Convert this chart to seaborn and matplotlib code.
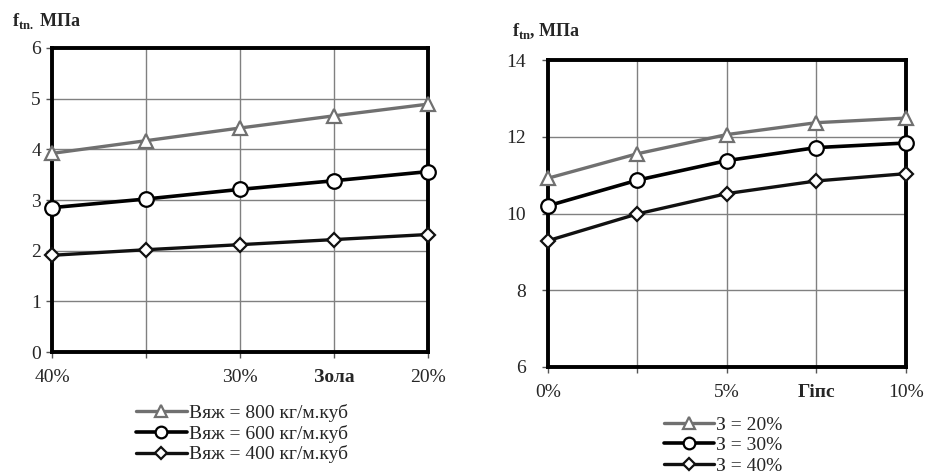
import matplotlib
matplotlib.use("Agg")
import matplotlib.pyplot as plt
import numpy as np
import pandas as pd
import seaborn as sns

# ліва діаграма: вміст золи
зола = [40, 35, 30, 25, 20]
зола_мітки = ["40%", "", "30%", "Зола", "20%"]
вяж_800 = [3.92, 4.17, 4.42, 4.66, 4.89]
вяж_600 = [2.85, 3.02, 3.21, 3.38, 3.56]
вяж_400 = [1.91, 2.02, 2.12, 2.22, 2.32]
ліва_легенда = ["Вяж = 800 кг/м.куб", "Вяж = 600 кг/м.куб", "Вяж = 400 кг/м.куб"]

# права діаграма: вміст гіпсу
гіпс = [0, 2.5, 5, 7.5, 10]
гіпс_мітки = ["0%", "", "5%", "Гіпс", "10%"]
з_20 = [10.92, 11.56, 12.06, 12.37, 12.49]
з_30 = [10.20, 10.87, 11.38, 11.72, 11.84]
з_40 = [9.29, 9.99, 10.52, 10.85, 11.04]
права_легенда = ["З = 20%", "З = 30%", "З = 40%"]

sns.set_theme(style="white")
plt.rcParams["font.family"] = ["Liberation Serif", "DejaVu Serif"]
plt.rcParams["mathtext.fontset"] = "custom"
plt.rcParams["mathtext.rm"] = "Liberation Serif"
plt.rcParams["mathtext.bf"] = "Liberation Serif:bold"

# стиль для кожної серії: колір лінії, маркер, розмір маркера, товщина
стилі = [
    ("#707070", "^", 10, 2.4),
    ("#000000", "o", 10.5, 2.6),
    ("#111111", "D", 7.5, 2.4),
]


def малювати(ax, x, серії, назви, мітки, xlim, ylim, yticks, ypad):
    df = pd.DataFrame({"x": np.tile(x, len(серії)),
                       "y": np.concatenate(серії),
                       "серія": np.repeat(назви, len(x))})
    for (колір, маркер, розмір, товщина), назва in zip(стилі, назви):
        sns.lineplot(data=df[df["серія"] == назва], x="x", y="y", ax=ax,
                     color=колір, marker=маркер, markersize=розмір,
                     markerfacecolor="white", markeredgecolor=колір,
                     markeredgewidth=1.6, linewidth=товщина, label=назва,
                     clip_on=False, zorder=3)
    ax.set_xlim(*xlim)
    ax.set_ylim(*ylim)
    ax.set_xticks(x)
    ax.set_xticklabels(мітки, fontsize=14)
    ax.get_xticklabels()[3].set_fontweight("bold")
    ax.set_yticks(yticks)
    ax.set_yticklabels([str(v) for v in yticks], fontsize=14)
    ax.set_xlabel("")
    ax.set_ylabel("")
    ax.grid(True, color="#808080", linewidth=1.0)
    for s in ax.spines.values():
        s.set_visible(True)
        s.set_color("black")
        s.set_linewidth(2.8)
    ax.tick_params(axis="both", direction="out", length=4, width=1,
                   color="#555555", bottom=True, left=True)
    ax.tick_params(axis="x", pad=8)
    ax.tick_params(axis="y", pad=ypad)
    ax.get_legend().remove()


fig = plt.figure(figsize=(9.3, 4.74), dpi=100)
ax1 = fig.add_axes([0.056, 0.257, 0.404, 0.642])
ax2 = fig.add_axes([0.589, 0.226, 0.385, 0.647])

малювати(ax1, зола, [вяж_800, вяж_600, вяж_400], ліва_легенда, зола_мітки,
         (40, 20), (0, 6), [0, 1, 2, 3, 4, 5, 6], 4)
малювати(ax2, гіпс, [з_20, з_30, з_40], права_легенда, гіпс_мітки,
         (0, 10), (6, 14), [6, 8, 10, 12, 14], 12)

fig.text(0.013, 0.955, r"f$_{\mathbf{tn.}}$ МПа", fontsize=13, fontweight="bold",
         va="center")
fig.text(0.551, 0.934, r"f$_{\mathbf{tn}}$, МПа", fontsize=13, fontweight="bold",
         va="center")

h1, l1 = ax1.get_legend_handles_labels()
fig.legend(h1, l1, loc="upper left", bbox_to_anchor=(0.136, 0.169), frameon=False,
           fontsize=14, handlelength=2.6, handletextpad=0.1, labelspacing=0.15,
           borderpad=0, markerscale=0.8)
h2, l2 = ax2.get_legend_handles_labels()
fig.legend(h2, l2, loc="upper left", bbox_to_anchor=(0.703, 0.143), frameon=False,
           fontsize=14, handlelength=2.6, handletextpad=0.1, labelspacing=0.15,
           borderpad=0, markerscale=0.8)

plt.savefig("out.png", dpi=100)
